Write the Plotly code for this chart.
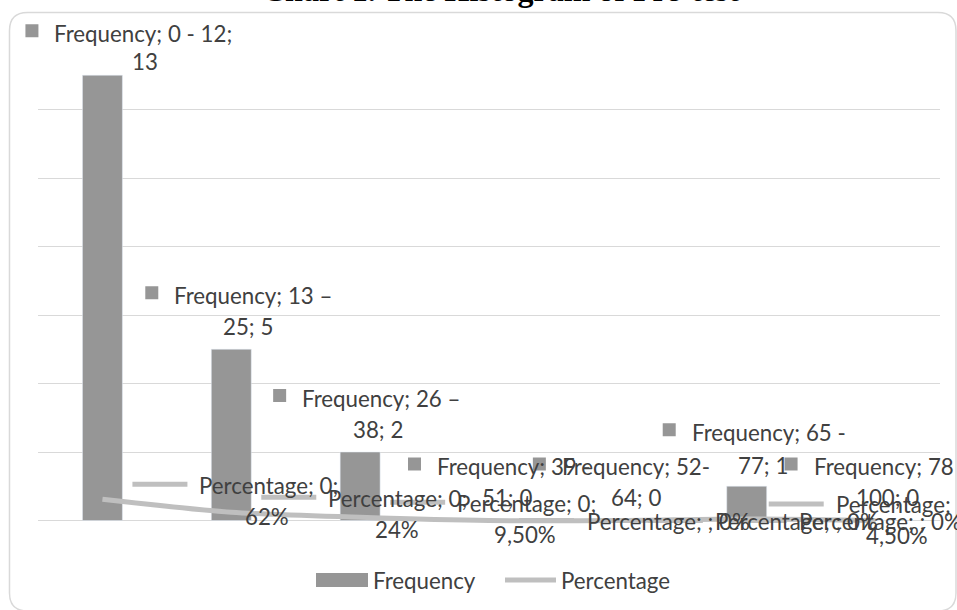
import plotly.graph_objects as go

# ---------------- data ----------------
categories = ["0 - 12", "13 – 25", "26 – 38", "39 - 51", "52-64", "65 - 77", "78 - 100"]
frequency = [13, 5, 2, 0, 0, 1, 0]
percentage = [0.62, 0.24, 0.095, 0, 0, 0.045, 0]

freq_text1 = ["Frequency; 0 - 12;", "Frequency; 13 –", "Frequency; 26 –", "Frequency; 39 -",
              "Frequency; 52-", "Frequency; 65 -", "Frequency; 78 -"]
freq_text2 = ["13", "25; 5", "38; 2", "51; 0", "64; 0", "77; 1", "100; 0"]
pct_text1 = ["Percentage; 0;", "Percentage; 0;", "Percentage; 0;", "Percentage; ; 0%",
             "Percentage; ; 0%", "Percentage; ;", "Percentage; ; 0%"]
pct_text2 = ["62%", "24%", "9,50%", "", "", "4,50%", ""]

title_text = "Chart 1. The Histogram of Pre-test"
x_range = [-0.5, 6.5]
y_range = [-2, 14]
y_ticks = [-2, 0, 2, 4, 6, 8, 10, 12, 14]

# ---------------- styling / label placement (pixels) ----------------
W, H = 957, 610
L, R, T, B = 38, 940, 41, 589
BAR_C = "#969696"
LINE_C = "#bfbfbf"
TXT_C = "#404040"
GRID_C = "#d9d9d9"
FONT = "Lato"
FS = 22.3

# frequency labels: left edge of line 1, centre of line 2 (relative to bar centre),
# heights above bar top of line 1 / line 2
f_left = [-50, -59, -60, -54, -58, -57, -64]
f_c2 = [43, 17, 18, 18, 18, 16, 12]
f_up1 = [42, 54, 54, 54, 54, 54, 54]
f_up2 = [14, 23, 23, 23, 23, 21, 23]

# percentage labels: key start, text left, line2 centre (rel. to point)
p_key = [30, 30, 30, 30, 30, 22, -144]
p_left = [95, 95, 95, 96, 95, 87, -79]
p_c2 = [165, 166, 165, 0, 0, 150, 0]


def px2x(px):
    return (px - L) / (R - L)


def py2y(py):
    return (B - py) / (B - T)


def val2paper(v):
    return (v - y_range[0]) / (y_range[1] - y_range[0])


def idx2paper(i):
    return (i - x_range[0]) / (x_range[1] - x_range[0])


fig = go.Figure()
fig.add_trace(go.Bar(x=categories, y=frequency, name="Frequency", marker_color=BAR_C,
                     width=0.31, showlegend=False))
fig.add_trace(go.Scatter(x=categories, y=percentage, name="Percentage", mode="lines",
                         line=dict(color=LINE_C, width=5, shape="spline", smoothing=0.8),
                         showlegend=False))

ann = []
shapes = []
font = dict(family=FONT, size=FS, color=TXT_C)

for i, c in enumerate(categories):
    v = frequency[i]
    ann.append(dict(x=c, y=v, xref="x", yref="y", text=freq_text1[i], showarrow=False,
                    xanchor="left", yanchor="middle", xshift=f_left[i], yshift=f_up1[i], font=font))
    ann.append(dict(x=c, y=v, xref="x", yref="y", text=freq_text2[i], showarrow=False,
                    xanchor="center", yanchor="middle", xshift=f_c2[i], yshift=f_up2[i], font=font))
    shapes.append(dict(type="rect", xref="paper", yref="paper", xsizemode="pixel", ysizemode="pixel",
                       xanchor=idx2paper(i), yanchor=val2paper(v),
                       x0=f_left[i] - 27, x1=f_left[i] - 14,
                       y0=f_up1[i] - 4, y1=f_up1[i] + 9,
                       fillcolor=BAR_C, line=dict(width=0)))

    p = percentage[i]
    two = pct_text2[i] != ""
    up1 = 15 if two else 0
    ann.append(dict(x=c, y=p, xref="x", yref="y", text=pct_text1[i], showarrow=False,
                    xanchor="left", yanchor="middle", xshift=p_left[i], yshift=up1 - 1, font=font))
    if two:
        ann.append(dict(x=c, y=p, xref="x", yref="y", text=pct_text2[i], showarrow=False,
                        xanchor="center", yanchor="middle", xshift=p_c2[i], yshift=-17, font=font))
    shapes.append(dict(type="line", xref="paper", yref="paper", xsizemode="pixel", ysizemode="pixel",
                       xanchor=idx2paper(i), yanchor=val2paper(p), x0=p_key[i], x1=p_key[i] + 55,
                       y0=up1, y1=up1, line=dict(color=LINE_C, width=5)))

# title (cut off by the top edge, as in the reference)
ann.append(dict(x=px2x(500), y=py2y(10), xref="paper", yref="paper", text="<b>" + title_text + "</b>",
                showarrow=False, xanchor="center", yanchor="bottom",
                font=dict(family="Liberation Serif", size=32, color="#000000")))

# manual legend
shapes.append(dict(type="rect", xref="paper", yref="paper", x0=px2x(316), x1=px2x(368),
                   y0=py2y(587), y1=py2y(573), fillcolor=BAR_C, line=dict(width=0)))
ann.append(dict(x=px2x(371), y=py2y(580), xref="paper", yref="paper", text="Frequency",
                showarrow=False, xanchor="left", yanchor="middle", font=font))
shapes.append(dict(type="line", xref="paper", yref="paper", x0=px2x(505), x1=px2x(556),
                   y0=py2y(580), y1=py2y(580), line=dict(color=LINE_C, width=5)))
ann.append(dict(x=px2x(559), y=py2y(580), xref="paper", yref="paper", text="Percentage",
                showarrow=False, xanchor="left", yanchor="middle", font=font))

# rounded chart border
x0, y0, x1, y1, r = 9.5, 12.5, 956, 611, 18


def P(px, py):
    return f"{px2x(px):.5f},{py2y(py):.5f}"


path = (f"M {P(x0 + r, y0)} L {P(x1 - r, y0)} Q {P(x1, y0)} {P(x1, y0 + r)} "
        f"L {P(x1, y1 - r)} Q {P(x1, y1)} {P(x1 - r, y1)} L {P(x0 + r, y1)} "
        f"Q {P(x0, y1)} {P(x0, y1 - r)} L {P(x0, y0 + r)} Q {P(x0, y0)} {P(x0 + r, y0)} Z")
shapes.append(dict(type="path", xref="paper", yref="paper", path=path,
                   line=dict(color=GRID_C, width=1.5), layer="below"))

fig.update_layout(
    width=W, height=H,
    margin=dict(l=L, r=W - R, t=T, b=H - B, pad=0),
    paper_bgcolor="white", plot_bgcolor="white",
    annotations=ann, shapes=shapes,
    xaxis=dict(type="category", categoryarray=categories, range=x_range, showgrid=False,
               showticklabels=False, zeroline=False, showline=False, ticks=""),
    yaxis=dict(range=y_range, tickvals=y_ticks, showgrid=True, gridcolor=GRID_C, gridwidth=1,
               showticklabels=False, zeroline=False, showline=False, ticks=""),
    showlegend=False,
)

fig.write_html("out.html", config={"displayModeBar": False},
               post_script="document.body.style.margin='0';document.body.style.overflow='hidden';")
